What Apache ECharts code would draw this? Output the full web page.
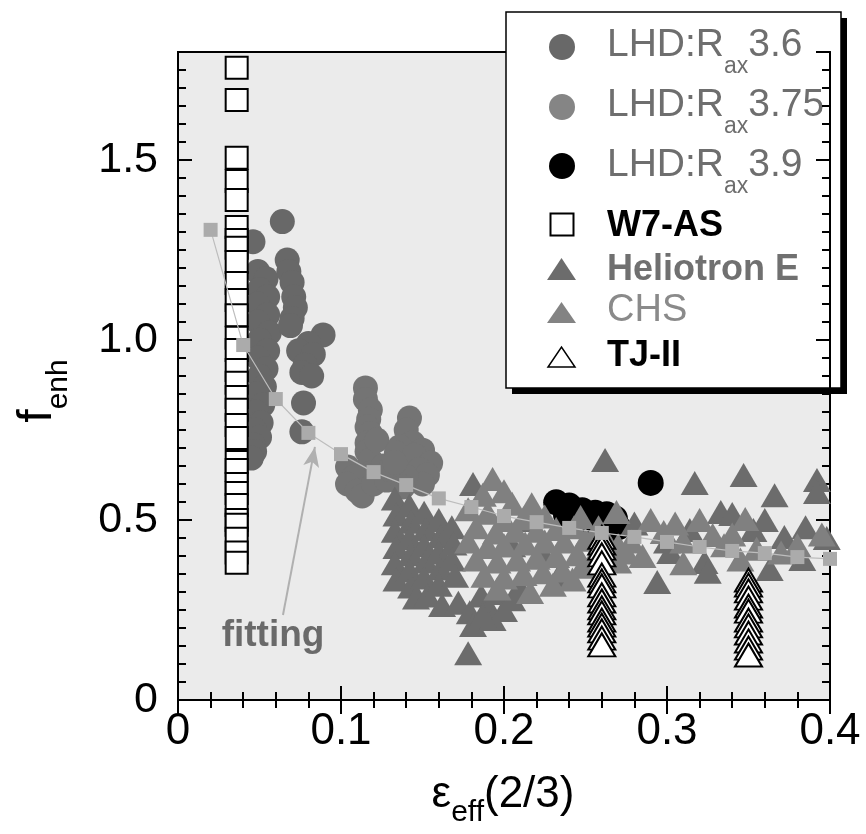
<!DOCTYPE html>
<html>
<head>
<meta charset="utf-8">
<script src="https://cdn.jsdelivr.net/npm/echarts@6/dist/echarts.min.js"></script>
<style>
  html, body { margin: 0; padding: 0; background: #fff; }
  #chart { width: 866px; height: 834px; }
</style>
</head>
<body>
<div id="chart"></div>
<script>
// f_enh versus effective helical ripple eps_eff(2/3) for several devices

const xTicks = [0, 0.1, 0.2, 0.3, 0.4];
const yTicks = [0, 0.5, 1.0, 1.5];

// LHD, R_ax = 3.6 m
const lhd36 = [
  [0.046, 1.273], [0.049, 1.19], [0.054, 1.17], [0.050, 1.14], [0.055, 1.12],
  [0.049, 1.10], [0.055, 1.07], [0.049, 1.05], [0.056, 1.02], [0.050, 1.00],
  [0.055, 0.97], [0.049, 0.95], [0.054, 0.92], [0.050, 0.90], [0.053, 0.87],
  [0.048, 0.85], [0.052, 0.82], [0.048, 0.80], [0.051, 0.77], [0.047, 0.75],
  [0.050, 0.73], [0.046, 0.71], [0.047, 0.69], [0.045, 0.672],
  [0.064, 1.329], [0.067, 1.222], [0.068, 1.19], [0.070, 1.16], [0.071, 1.12],
  [0.072, 1.09], [0.070, 1.06], [0.069, 1.04],
  [0.089, 1.014], [0.080, 0.99], [0.074, 0.97], [0.083, 0.96], [0.078, 0.93],
  [0.076, 0.91], [0.082, 0.90], [0.077, 0.825], [0.076, 0.745]
];
// LHD, R_ax = 3.75 m
const lhd375 = [
  [0.115, 0.867], [0.115, 0.835], [0.118, 0.806], [0.117, 0.78], [0.116, 0.758],
  [0.118, 0.74], [0.116, 0.714], [0.116, 0.69], [0.118, 0.667], [0.118, 0.63],
  [0.104, 0.647], [0.108, 0.62], [0.104, 0.60], [0.110, 0.58], [0.113, 0.567],
  [0.120, 0.60], [0.122, 0.722], [0.126, 0.65], [0.128, 0.611], [0.130, 0.64],
  [0.142, 0.783], [0.140, 0.75], [0.144, 0.714], [0.136, 0.703], [0.134, 0.686],
  [0.150, 0.694], [0.145, 0.68], [0.155, 0.658], [0.148, 0.64], [0.153, 0.625],
  [0.150, 0.60], [0.140, 0.62], [0.138, 0.592], [0.133, 0.66]
];
// LHD, R_ax = 3.9 m
const lhd39 = [
  [0.232, 0.549], [0.240, 0.54], [0.248, 0.527], [0.256, 0.52], [0.263, 0.516],
  [0.268, 0.505], [0.270, 0.48], [0.265, 0.468], [0.238, 0.515], [0.250, 0.50],
  [0.290, 0.603]
];
// W7-AS (single eps_eff value)
const w7asX = 0.036;
const w7asY = [
  1.756, 1.667, 1.506, 1.442, 1.389, 1.314, 1.278, 1.256, 1.217, 1.158, 1.111,
  1.069, 1.006, 0.972, 0.917, 0.881, 0.842, 0.806, 0.764, 0.728, 0.661, 0.639,
  0.60, 0.575, 0.542, 0.50, 0.487, 0.448, 0.41, 0.381
];
// Heliotron E
const heliotronE = [
  [0.133, 0.56], [0.134, 0.515], [0.133, 0.47], [0.134, 0.425], [0.133, 0.38], [0.134, 0.335],
  [0.142, 0.54], [0.143, 0.495], [0.142, 0.45], [0.143, 0.405], [0.142, 0.36], [0.143, 0.315],
  [0.146, 0.285], [0.151, 0.52], [0.152, 0.475], [0.151, 0.43], [0.152, 0.385], [0.151, 0.34],
  [0.153, 0.29], [0.160, 0.50], [0.161, 0.455], [0.160, 0.41], [0.161, 0.365], [0.160, 0.32],
  [0.168, 0.48], [0.169, 0.435], [0.168, 0.39], [0.170, 0.345],
  [0.162, 0.264], [0.172, 0.27], [0.179, 0.244], [0.181, 0.208], [0.186, 0.29],
  [0.190, 0.262], [0.196, 0.297], [0.193, 0.225], [0.200, 0.25], [0.205, 0.28],
  [0.210, 0.31], [0.187, 0.235], [0.178, 0.13],
  [0.181, 0.60], [0.215, 0.50], [0.205, 0.43], [0.225, 0.40], [0.233, 0.34],
  [0.262, 0.667], [0.317, 0.603], [0.347, 0.625], [0.366, 0.569], [0.392, 0.611],
  [0.392, 0.578], [0.333, 0.522], [0.340, 0.517], [0.353, 0.472], [0.372, 0.453],
  [0.383, 0.392], [0.323, 0.383], [0.325, 0.356], [0.294, 0.328], [0.363, 0.364],
  [0.302, 0.411], [0.280, 0.49], [0.300, 0.44], [0.314, 0.472], [0.360, 0.50],
  [0.385, 0.48], [0.398, 0.45]
];
// CHS
const chs = [
  [0.193, 0.614], [0.187, 0.57], [0.200, 0.58], [0.205, 0.545], [0.217, 0.544],
  [0.178, 0.53], [0.190, 0.52], [0.200, 0.50], [0.212, 0.505], [0.225, 0.51],
  [0.183, 0.48], [0.195, 0.465], [0.207, 0.47], [0.220, 0.47], [0.232, 0.475], [0.243, 0.48],
  [0.178, 0.44], [0.190, 0.425], [0.200, 0.43], [0.213, 0.435], [0.225, 0.44],
  [0.237, 0.44], [0.250, 0.445], [0.183, 0.39], [0.196, 0.385], [0.208, 0.39],
  [0.220, 0.395], [0.232, 0.40], [0.245, 0.405], [0.257, 0.41], [0.188, 0.345],
  [0.200, 0.34], [0.212, 0.35], [0.224, 0.355], [0.236, 0.36], [0.248, 0.37],
  [0.196, 0.31], [0.216, 0.30], [0.230, 0.32], [0.242, 0.335],
  [0.247, 0.508], [0.258, 0.48], [0.269, 0.522], [0.262, 0.45], [0.270, 0.43],
  [0.275, 0.41], [0.270, 0.385], [0.290, 0.50], [0.298, 0.467], [0.278, 0.44],
  [0.285, 0.40], [0.310, 0.44], [0.328, 0.458], [0.348, 0.503], [0.335, 0.43],
  [0.355, 0.42], [0.370, 0.41], [0.380, 0.43], [0.395, 0.46], [0.345, 0.39],
  [0.310, 0.38], [0.320, 0.50], [0.305, 0.49], [0.340, 0.46]
];
// TJ-II, two configurations
const tjA_X = 0.26;
const tjA_Y = [0.452, 0.436, 0.422, 0.403, 0.381, 0.347, 0.331, 0.317, 0.292, 0.275,
               0.256, 0.242, 0.222, 0.208, 0.192, 0.172, 0.153];
const tjB_X = 0.35;
const tjB_Y = [0.333, 0.319, 0.303, 0.283, 0.261, 0.247, 0.222, 0.206, 0.186, 0.164,
               0.144, 0.125];
// fitting curve
const fitX = [0.02, 0.04, 0.06, 0.08, 0.10, 0.12, 0.14, 0.16, 0.18, 0.20,
              0.22, 0.24, 0.26, 0.28, 0.30, 0.32, 0.34, 0.36, 0.38, 0.40];
const fitY = [1.306, 0.986, 0.836, 0.742, 0.683, 0.633, 0.597, 0.560, 0.536, 0.511,
              0.494, 0.478, 0.464, 0.453, 0.439, 0.425, 0.414, 0.408, 0.397, 0.392];
// "fitting" annotation: arrow from label to curve
const fitArrow = [[0.0644, 0.236], [0.084, 0.703]];
const fitLabelAt = [0.0583, 0.178];

const FONT = 'Liberation Sans, Arial, sans-serif';

const w7as = w7asY.map(y => [w7asX, y]);
const tj = tjA_Y.map(y => [tjA_X, y]).concat(tjB_Y.map(y => [tjB_X, y]));
const fit = fitX.map((x, i) => [x, fitY[i]]);

const isTick = (v, list) => list.some(t => Math.abs(t - v) < 1e-6);

const chart = echarts.init(document.getElementById('chart'), null, { renderer: 'canvas' });

const baseX = {
  type: 'value', min: 0, max: 0.4, interval: 0.1,
  axisLine: { show: true, lineStyle: { color: '#000', width: 2 } },
  axisTick: { show: true, inside: true, length: 14, lineStyle: { color: '#000', width: 2 } },
  minorTick: { show: true, splitNumber: 5, length: 8, lineStyle: { color: '#000', width: 2 } },
  splitLine: { show: false }, minorSplitLine: { show: false }
};
const baseY = (interval, len) => ({
  type: 'value', min: 0, max: 1.8, interval: interval,
  axisLine: { show: true, onZero: false, lineStyle: { color: '#000', width: 2 } },
  axisTick: { show: true, inside: true, length: len, lineStyle: { color: '#000', width: 2 } },
  splitLine: { show: false }, axisLabel: { show: false }
});

const option = {
  animation: false,
  backgroundColor: '#fff',
  grid: {
    left: 178, right: 36, top: 52, bottom: 134,
    show: true, backgroundColor: '#ebebeb', borderColor: '#000', borderWidth: 2
  },
  xAxis: [
    Object.assign({}, baseX, {
      position: 'bottom',
      axisLabel: {
        show: true, margin: 10, color: '#000', fontSize: 44, fontFamily: FONT,
        formatter: v => isTick(v, xTicks) ? String(+v.toFixed(1)) : ''
      }
    }),
    Object.assign({}, baseX, { position: 'top', axisLabel: { show: false } })
  ],
  yAxis: [
    Object.assign(baseY(0.05, 8), { position: 'left' }),
    Object.assign(baseY(0.5, 14), {
      position: 'left',
      axisLabel: {
        show: true, margin: 20, color: '#000', fontSize: 43, fontFamily: FONT,
        showMaxLabel: false, padding: [0, 0, 8, 0],
        formatter: v => isTick(v, yTicks) ? (v === 0 ? '0' : v.toFixed(1)) : ''
      }
    }),
    Object.assign(baseY(0.05, 8), { position: 'right' }),
    Object.assign(baseY(0.5, 14), { position: 'right' })
  ],
  series: [
    { name: 'LHD:Rax3.6', type: 'scatter', z: 2, data: lhd36, symbol: 'circle', symbolSize: 25,
      itemStyle: { color: '#686868', opacity: 1 } },
    { name: 'LHD:Rax3.75', type: 'scatter', z: 2, data: lhd375, symbol: 'circle', symbolSize: 25,
      itemStyle: { color: '#747474', opacity: 1 } },
    { name: 'LHD:Rax3.9', type: 'scatter', z: 2, data: lhd39, symbol: 'circle', symbolSize: 26,
      itemStyle: { color: '#000', opacity: 1 } },
    { name: 'Heliotron E', type: 'scatter', z: 2, data: heliotronE, symbol: 'triangle', symbolSize: [28, 24],
      itemStyle: { color: '#6c6c6c', opacity: 1 } },
    { name: 'CHS', type: 'scatter', z: 2, data: chs, symbol: 'triangle', symbolSize: [28, 24],
      itemStyle: { color: '#808080', opacity: 1 } },
    { name: 'W7-AS', type: 'scatter', z: 3, data: w7as, symbol: 'rect', symbolSize: 22,
      itemStyle: { color: '#fff', borderColor: '#000', borderWidth: 2, opacity: 1 } },
    { name: 'TJ-II', type: 'scatter', z: 3, data: tj, symbol: 'triangle', symbolSize: [27, 23],
      itemStyle: { color: '#fff', borderColor: '#000', borderWidth: 2, opacity: 1 } },
    {
      name: 'fitting', type: 'line', data: fit, z: 4,
      symbol: 'rect', symbolSize: 14, showSymbol: true,
      itemStyle: { color: '#ababab' },
      lineStyle: { color: '#bdbdbd', width: 1.2 },
      markLine: {
        silent: true, symbol: ['none', 'arrow'], symbolSize: [12, 20],
        lineStyle: { color: '#b0b0b0', width: 2, type: 'solid' },
        label: { show: false },
        data: [[{ coord: fitArrow[0] }, { coord: fitArrow[1] }]]
      },
      markPoint: {
        silent: true, symbol: 'circle', symbolSize: 1,
        itemStyle: { color: 'rgba(0,0,0,0)' },
        label: {
          show: true, position: 'inside', formatter: 'fitting',
          fontSize: 37, fontWeight: 'bold', color: '#6a6a6a', fontFamily: FONT
        },
        data: [{ coord: fitLabelAt }]
      }
    }
  ],
  graphic: [
    // x axis title: eps_eff(2/3)
    {
      type: 'text', x: 503, y: 773, z: 50,
      style: {
        text: '{m|\u03b5}{s|eff}{m|(2/3)}', textAlign: 'center', verticalAlign: 'top',
        fill: '#000', fontFamily: FONT,
        rich: {
          m: { fontSize: 44, lineHeight: 44, verticalAlign: 'top', fontFamily: FONT, fill: '#000' },
          s: { fontSize: 30, lineHeight: 30, verticalAlign: 'top', padding: [25, 0, 0, 0], fontFamily: FONT, fill: '#000' }
        }
      }
    },
    // y axis title: f_enh
    {
      type: 'text', x: 14, y: 391, rotation: Math.PI / 2, z: 50,
      style: {
        text: '{m|f}{s|enh}', x: 0, y: 0, textAlign: 'center', verticalAlign: 'top',
        fill: '#000', fontFamily: FONT,
        rich: {
          m: { fontSize: 48, lineHeight: 48, verticalAlign: 'top', fontFamily: FONT, fill: '#000' },
          s: { fontSize: 30, lineHeight: 30, verticalAlign: 'top', padding: [30, 0, 0, 0], fontFamily: FONT, fill: '#000' }
        }
      }
    },
    // legend box
    {
      type: 'group', z: 100,
      children: [
        { type: 'rect', shape: { x: 512, y: 18, width: 335, height: 376 }, style: { fill: '#000' } },
        { type: 'rect', shape: { x: 506, y: 12, width: 335, height: 376 }, style: { fill: '#fff', stroke: '#000', lineWidth: 1.5 } },
        { type: 'circle', shape: { cx: 562, cy: 47, r: 13 }, style: { fill: '#686868' } },
        { type: 'circle', shape: { cx: 562, cy: 107, r: 13 }, style: { fill: '#858585' } },
        { type: 'circle', shape: { cx: 562, cy: 166, r: 13 }, style: { fill: '#000' } },
        { type: 'rect', shape: { x: 550.5, y: 213.5, width: 23, height: 22 }, style: { fill: '#fff', stroke: '#000', lineWidth: 2 } },
        { type: 'polygon', shape: { points: [[547, 280], [576, 280], [561.5, 258]] }, style: { fill: '#6c6c6c' } },
        { type: 'polygon', shape: { points: [[547, 323], [576, 323], [561.5, 302]] }, style: { fill: '#838383' } },
        { type: 'polygon', shape: { points: [[548, 367], [575, 367], [561.5, 347]] }, style: { fill: '#fff', stroke: '#000', lineWidth: 1.5 } },
        ...[['3.6', 26], ['3.75', 86], ['3.9', 146]].map(([v, t]) => ({
          type: 'text', x: 607, y: t,
          style: {
            text: '{m|LHD:R}{s|ax}{m|' + v + '}', textAlign: 'left', verticalAlign: 'top',
            fill: '#6e6e6e', fontFamily: FONT,
            rich: {
              m: { fontSize: 39, lineHeight: 40, verticalAlign: 'top', fontFamily: FONT, fill: '#6e6e6e' },
              s: { fontSize: 23, lineHeight: 23, verticalAlign: 'top', padding: [29, 0, 0, 0], fontFamily: FONT, fill: '#6e6e6e' }
            }
          }
        })),
        { type: 'text', x: 607, y: 226, style: { text: 'W7-AS', fontSize: 36, fontWeight: 'bold', fontFamily: FONT, fill: '#000', verticalAlign: 'middle' } },
        { type: 'text', x: 607, y: 270, style: { text: 'Heliotron E', fontSize: 36, fontWeight: 'bold', fontFamily: FONT, fill: '#707070', verticalAlign: 'middle' } },
        { type: 'text', x: 607, y: 311, style: { text: 'CHS', fontSize: 38, fontFamily: FONT, fill: '#8a8a8a', verticalAlign: 'middle' } },
        { type: 'text', x: 607, y: 356, style: { text: 'TJ-II', fontSize: 36, fontWeight: 'bold', fontFamily: FONT, fill: '#000', verticalAlign: 'middle' } }
      ]
    }
  ]
};

chart.setOption(option);
</script>
</body>
</html>
